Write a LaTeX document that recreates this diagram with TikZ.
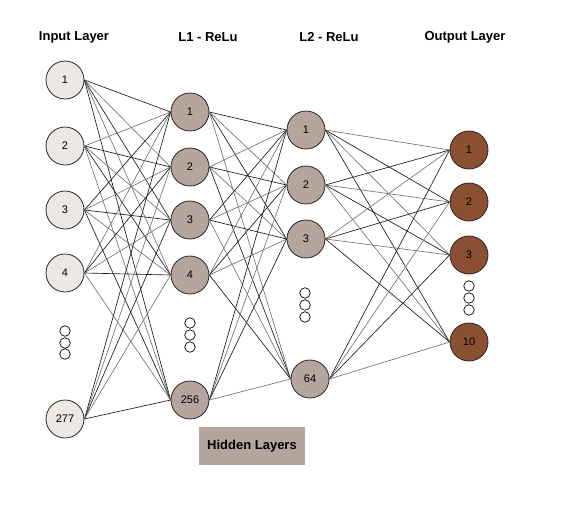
\documentclass[tikz,border=0pt]{standalone}
\usepackage{fontspec}
\setmainfont{Liberation Sans}
\usepackage{xcolor}
\usepackage{tikz}
\usetikzlibrary{positioning}

\definecolor{inputfill}{HTML}{ECE8E4}
\definecolor{hiddenfill}{HTML}{B5A59C}
\definecolor{outputfill}{HTML}{8B5033}

\begin{document}
\begin{tikzpicture}[x=1pt,y=-1pt,
    state/.style={circle,draw=black!85,line width=0.8pt,minimum size=38pt,inner sep=0pt,font=\fontsize{11}{13}\selectfont},
    instate/.style={state,fill=inputfill},
    hidstate/.style={state,fill=hiddenfill},
    outstate/.style={state,fill=outputfill},
    dot/.style={circle,draw=black,line width=0.7pt,minimum size=10.5pt,inner sep=0pt},
    title/.style={font=\fontsize{13}{15}\selectfont\bfseries},
    edge0/.style={draw=black!90,line width=0.65pt},
    edge1/.style={draw=black!55,line width=0.65pt}]

    \useasboundingbox (0,0) rectangle (561,512);

    % Titles
    \node [title] at (74,37) (tin) {Input Layer};
    \node [title] at (208,37) (tl1) {L1 - ReLu};
    \node [title] at (329,37) (tl2) {L2 - ReLu};
    \node [title] at (465,37) (tout) {Output Layer};

    % Input layer
    \node [instate] at (65,80) (in1) {1};
    \node [instate] at (65,146) (in2) {2};
    \node [instate] at (65,210) (in3) {3};
    \node [instate] at (65,273) (in4) {4};
    \node [instate] at (65,419) (in277) {277};
    \node [dot] at (65,331) (ind1) {};
    \node [dot] at (65,343) (ind2) {};
    \node [dot] at (65,354) (ind3) {};

    % L1
    \node [hidstate] at (190,112) (h1) {1};
    \node [hidstate] at (190,167) (h2) {2};
    \node [hidstate] at (190,220) (h3) {3};
    \node [hidstate] at (190,275) (h4) {4};
    \node [hidstate] at (190,400) (h256) {256};
    \node [dot] at (190,323) (hd1) {};
    \node [dot] at (190,335) (hd2) {};
    \node [dot] at (190,347) (hd3) {};

    % L2
    \node [hidstate] at (306,130) (g1) {1};
    \node [hidstate] at (306,185) (g2) {2};
    \node [hidstate] at (306,239) (g3) {3};
    \node [hidstate] at (310,379) (g64) {64};
    \node [dot] at (305,293) (gd1) {};
    \node [dot] at (305,305) (gd2) {};
    \node [dot] at (305,317) (gd3) {};

    % Output layer
    \node [outstate] at (469,150) (out1) {1};
    \node [outstate] at (469,202) (out2) {2};
    \node [outstate] at (469,255) (out3) {3};
    \node [outstate] at (469,342) (out10) {10};
    \node [dot] at (469,286) (outd1) {};
    \node [dot] at (469,298) (outd2) {};
    \node [dot] at (469,310) (outd3) {};

    % Label box
    \node [fill=hiddenfill,minimum width=106pt,minimum height=38pt,font=\fontsize{13}{15}\selectfont\bfseries] at (252,446) (hidden) {Hidden Layers};

    % Graph edges
    \foreach \a [count=\i] in {in1,in2,in3,in4,in277}
      \foreach \b [count=\j] in {h1,h2,h3,h4,h256} {
        \pgfmathtruncatemacro\k{mod(\i+\j,2)}
        \path [edge\k] (\a.east) -- (\b.west);
      }
    \foreach \a [count=\i] in {h1,h2,h3,h4,h256}
      \foreach \b [count=\j] in {g1,g2,g3,g64} {
        \pgfmathtruncatemacro\k{mod(\i+\j,2)}
        \path [edge\k] (\a.east) -- (\b.west);
      }
    \foreach \a [count=\i] in {g1,g2,g3,g64}
      \foreach \b [count=\j] in {out1,out2,out3,out10} {
        \pgfmathtruncatemacro\k{mod(\i+\j+1,2)}
        \path [edge\k] (\a.east) -- (\b.west);
      }

\end{tikzpicture}
\end{document}
